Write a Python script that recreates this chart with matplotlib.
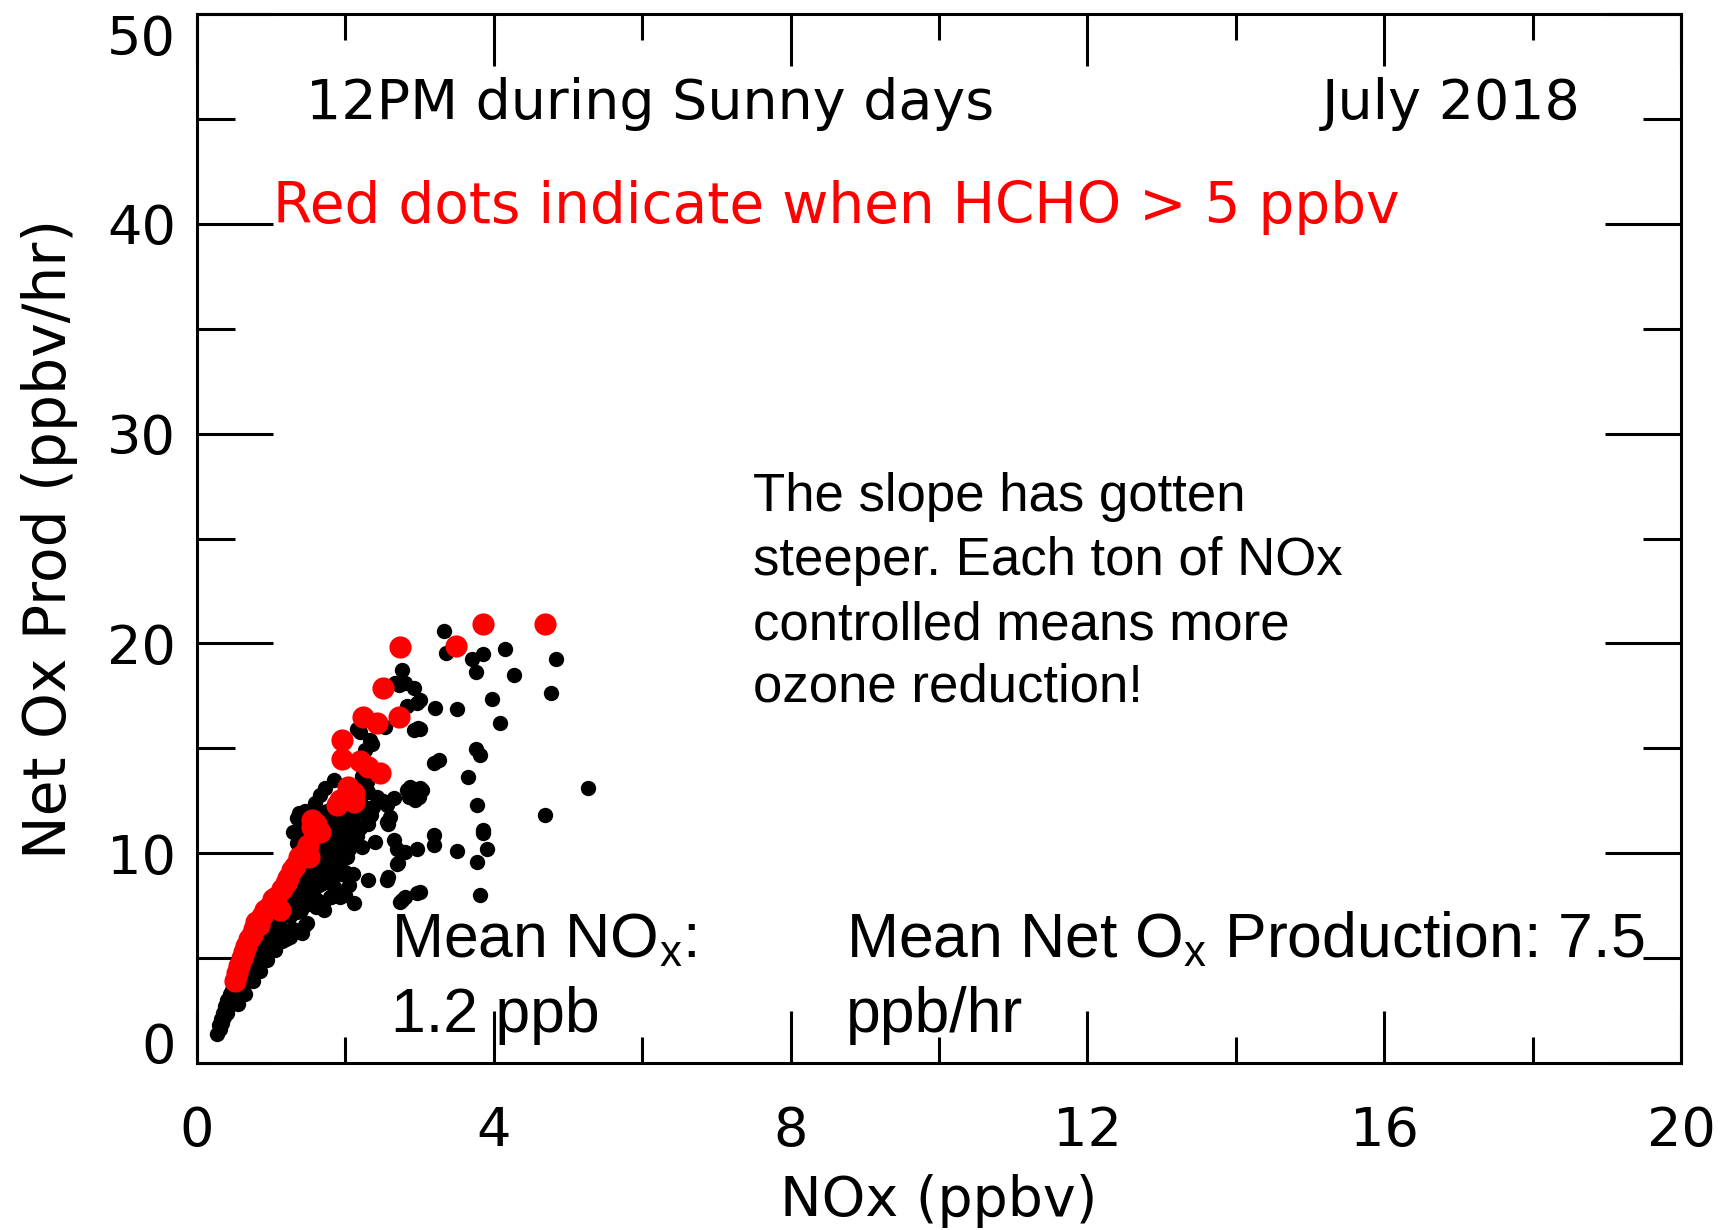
import matplotlib
matplotlib.use('Agg')
import matplotlib.pyplot as plt
import numpy as np
from matplotlib.ticker import MultipleLocator

# ---------------- data ----------------
# black dots: (NOx ppbv, Net Ox production ppbv/hr)
black_pts = [
    (0.27, 1.4), (0.29, 1.8), (0.31, 1.6), (0.32, 2.1), (0.34, 1.9), (0.35, 2.4), (0.37, 2.2),
    (0.38, 2.7), (0.40, 2.4), (0.41, 3.0), (0.43, 2.7), (0.44, 3.3), (0.46, 2.9), (0.47, 3.5),
    (0.49, 3.2), (0.50, 3.7), (0.52, 3.4), (0.54, 3.9), (0.56, 3.5), (0.58, 4.1), (0.60, 3.8),
    (0.61, 4.4), (0.63, 4.0), (0.65, 4.6), (0.67, 4.2), (0.69, 4.9), (0.71, 4.5), (0.73, 5.1),
    (0.75, 4.7), (0.77, 5.4), (0.79, 5.0), (0.81, 5.6), (0.84, 5.2), (0.86, 5.9), (0.88, 5.5),
    (0.90, 6.2), (0.93, 5.8), (0.95, 6.5), (0.97, 6.0), (1.00, 6.8), (1.02, 6.3), (1.05, 7.0),
    (1.08, 6.6), (1.10, 7.3), (1.13, 6.9), (1.16, 7.6), (1.18, 7.1), (1.21, 7.9), (1.24, 7.4),
    (1.26, 8.2), (1.29, 7.7), (1.31, 8.5), (1.34, 8.0), (1.36, 8.8), (1.39, 8.3), (1.41, 9.1),
    (1.44, 8.6), (1.46, 9.4), (1.49, 8.9), (1.52, 9.7), (1.55, 9.2), (1.57, 10.0), (1.60, 9.5),
    (1.62, 10.4), (1.65, 9.8), (1.68, 10.7), (1.70, 10.2), (1.73, 11.0), (1.76, 10.5), (1.79, 11.3),
    (1.82, 10.8), (1.85, 11.6), (1.88, 11.1), (1.91, 11.9), (1.94, 11.4), (1.97, 12.2), (2.00, 11.7),
    (0.58, 3.2), (0.62, 3.5), (0.82, 4.6), (0.86, 5.0), (1.00, 6.0), (1.10, 6.2), (1.20, 6.3),
    (1.30, 6.4), (1.40, 6.3), (1.45, 6.6), (1.15, 5.8), (1.20, 5.9), (1.40, 7.3), (1.50, 7.6),
    (1.60, 7.8), (1.70, 7.6), (1.80, 7.9), (1.90, 8.2), (2.00, 8.0), (1.55, 8.2), (1.65, 8.5),
    (1.75, 8.7), (1.85, 8.4), (1.70, 9.0), (1.80, 9.3), (1.90, 9.6), (1.95, 9.0), (1.85, 8.9),
    (2.00, 11.2), (2.10, 11.5), (2.20, 11.2), (2.30, 11.4), (2.35, 11.8), (2.15, 10.8),
    (2.15, 12.9), (2.30, 12.9), (2.00, 12.6),
    (0.55, 2.8), (0.65, 3.3), (0.75, 3.9), (0.85, 4.4), (0.95, 4.9), (1.05, 5.4), (1.25, 6.0),
    (1.25, 7.0), (1.35, 7.2), (1.45, 7.8), (1.55, 8.6), (1.65, 9.2), (1.75, 9.6), (1.85, 10.0),
    (1.95, 10.3), (2.05, 10.2), (1.90, 10.8), (2.00, 10.6), (2.10, 12.0), (2.20, 12.5),
    (2.05, 12.3), (1.75, 12.0), (1.70, 11.6), (1.60, 11.9), (1.45, 11.5), (1.40, 11.0),
    (1.35, 10.5), (2.05, 8.5), (2.10, 9.0),
    (2.02, 9.83), (1.99, 9.12), (2.07, 10.6), (2.11, 11.1), (2.22, 10.31), (2.24, 11.9),
    (2.17, 11.98), (2.25, 12.2), (1.84, 13.49), (1.73, 13.1), (1.66, 12.77), (1.59, 12.38),
    (1.46, 12.0), (1.37, 11.9), (1.35, 11.7), (1.30, 11.03), (2.31, 8.72), (2.11, 7.61),
    (2.58, 8.88), (2.56, 8.72), (2.70, 9.5), (2.74, 7.69), (2.80, 7.9), (2.76, 7.77), (2.97, 8.09),
    (2.65, 10.63), (2.70, 10.2), (2.80, 10.07), (2.96, 10.19), (2.58, 11.39), (2.40, 10.55),
    (2.56, 11.5), (2.56, 12.3), (2.94, 12.54), (2.50, 12.5), (2.42, 12.7), (2.37, 12.2),
    (2.60, 11.74), (2.65, 12.62), (2.83, 13.0), (2.87, 13.17), (3.00, 13.1), (2.86, 12.7),
    (2.29, 13.41), (2.24, 13.33), (2.40, 13.8), (2.22, 13.7), (2.27, 14.9), (2.33, 15.4),
    (2.36, 15.2), (2.20, 15.8), (2.15, 15.9), (2.53, 16.03), (2.98, 15.95), (2.92, 15.87),
    (3.21, 16.9), (2.83, 17.0), (2.96, 17.14), (2.92, 17.86), (2.80, 18.1), (2.72, 18.0),
    (2.67, 18.1), (2.76, 18.73), (3.00, 17.30), (3.33, 20.59), (3.35, 19.56), (3.71, 19.24),
    (3.85, 19.48), (3.76, 18.65), (4.15, 19.72), (4.27, 18.49), (4.84, 19.27), (4.77, 17.65),
    (3.98, 17.36), (3.50, 16.89), (4.08, 16.22), (3.00, 15.90), (3.26, 14.44), (3.20, 14.31),
    (3.76, 14.95), (3.81, 14.68), (3.65, 13.65), (3.03, 13.01), (2.99, 12.69), (5.27, 13.12),
    (3.77, 12.30), (4.69, 11.82), (3.85, 11.11), (3.19, 10.87), (3.19, 10.39), (3.51, 10.12),
    (3.91, 10.19), (3.77, 9.60), (3.00, 8.17), (3.81, 8.01), (3.85, 10.95), (2.71, 9.52),
    (1.70, 8.56), (1.61, 7.45), (1.79, 7.93), (1.71, 7.29), (1.48, 6.66), (1.42, 6.2),
    (1.93, 7.93), (1.66, 7.44),
]

# red dots: HCHO > 5 ppbv
red_pts = [
    (0.51, 3.9), (0.54, 4.3), (0.57, 4.6), (0.60, 5.0), (0.63, 5.3), (0.66, 5.6), (0.70, 5.9),
    (0.74, 6.1), (0.77, 6.4), (0.80, 6.7), (0.84, 6.6), (0.87, 7.0), (0.92, 7.3), (0.98, 7.5),
    (1.03, 7.8), (1.07, 7.9), (1.12, 7.3), (1.15, 8.3), (1.20, 8.6), (1.23, 8.8), (1.28, 9.2),
    (1.32, 9.4), (1.38, 9.8), (1.46, 10.07), (1.51, 9.8), (1.50, 10.4), (1.55, 11.26), (1.60, 11.4),
    (1.66, 11.03), (1.55, 11.6), (1.89, 12.3), (1.93, 12.54), (2.04, 13.17), (2.11, 12.86),
    (2.11, 12.46), (1.95, 14.5), (2.20, 14.4), (2.31, 14.1), (2.46, 13.81), (1.95, 15.4),
    (2.24, 16.5), (2.43, 16.2), (2.72, 16.5), (2.51, 17.86), (2.74, 19.81), (3.49, 19.88),
    (3.86, 20.91), (4.69, 20.91),
]

nox_black = [p[0] for p in black_pts]
ox_black = [p[1] for p in black_pts]
nox_red = [p[0] for p in red_pts]
ox_red = [p[1] for p in red_pts]

x_ticks = [0, 4, 8, 12, 16, 20]
x_tick_labels = ['0', '4', '8', '12', '16', '20']
y_ticks = [0, 10, 20, 30, 40, 50]
y_tick_labels = ['0', '10', '20', '30', '40', '50']

# ---------------- figure ----------------
plt.rcParams['font.family'] = ['DejaVu Sans']
plt.rcParams['mathtext.default'] = 'regular'

W, H = 1728, 1230
fig = plt.figure(figsize=(W / 100, H / 100), dpi=100)
L, R, T, B = 197, 1681, 14, 1063
ax = fig.add_axes([L / W, 1 - B / H, (R - L) / W, (B - T) / H])

ax.scatter(nox_black, ox_black, s=122, c='black', linewidths=0, zorder=2)
ax.scatter(nox_red, ox_red, s=255, c='red', linewidths=0, zorder=3)

ax.set_xlim(0, 20)
ax.set_ylim(0, 50)
ax.set_xticks(x_ticks)
ax.set_xticklabels(x_tick_labels)
ax.set_yticks(y_ticks)
ax.set_yticklabels(y_tick_labels)
ax.xaxis.set_minor_locator(MultipleLocator(2))
ax.yaxis.set_minor_locator(MultipleLocator(5))

for s in ax.spines.values():
    s.set_linewidth(2.2)

ax.tick_params(which='both', direction='in', top=True, right=True, width=2.2, colors='black')
ax.tick_params(axis='x', which='major', length=37.5, pad=30, labelsize=39)
ax.tick_params(axis='x', which='minor', length=19)
ax.tick_params(axis='y', which='major', length=55, pad=15, labelsize=39)
ax.tick_params(axis='y', which='minor', length=27.5)

ylabs = ax.get_yticklabels()
ylabs[0].set_va('baseline')
ylabs[-1].set_va('top')

ax.set_xlabel('NOx (ppbv)', fontsize=40)
ax.xaxis.set_label_coords(0.5, -0.106)
ax.set_ylabel('Net Ox Prod (ppbv/hr)', fontsize=42)
ax.yaxis.set_label_coords(-0.080, 0.5)

# IDL-style annotations
ax.text(1.47, 45.0, '12PM during Sunny days', fontsize=40, ha='left', va='baseline')
ax.text(18.65, 45.0, 'July 2018', fontsize=40, ha='right', va='baseline')
ax.text(1.02, 40.04, 'Red dots indicate when HCHO > 5 ppbv', fontsize=40.7, color='red',
        ha='left', va='baseline')

# slide-style annotations (Arial-like)
sans = 'Liberation Sans'
slope_lines = ['The slope has gotten', 'steeper. Each ton of NOx',
               'controlled means more', 'ozone reduction!']
slope_y = [26.33, 23.24, 20.19, 17.21]
for txt, yy in zip(slope_lines, slope_y):
    ax.text(7.49, yy, txt, fontsize=38, family=sans, ha='left', va='baseline', zorder=5)

ax.text(2.61, 5.05, r'Mean NO$_{x}$:', fontsize=45, family=sans, ha='left', va='baseline', zorder=1)
ax.text(2.61, 1.48, '1.2 ppb', fontsize=45, family=sans, ha='left', va='baseline', zorder=1)
ax.text(8.74, 5.05, r'Mean Net O$_{x}$ Production: 7.5', fontsize=45, family=sans,
        ha='left', va='baseline', zorder=1)
ax.text(8.74, 1.48, 'ppb/hr', fontsize=45, family=sans, ha='left', va='baseline', zorder=1)

fig.savefig('out.png', dpi=100)
